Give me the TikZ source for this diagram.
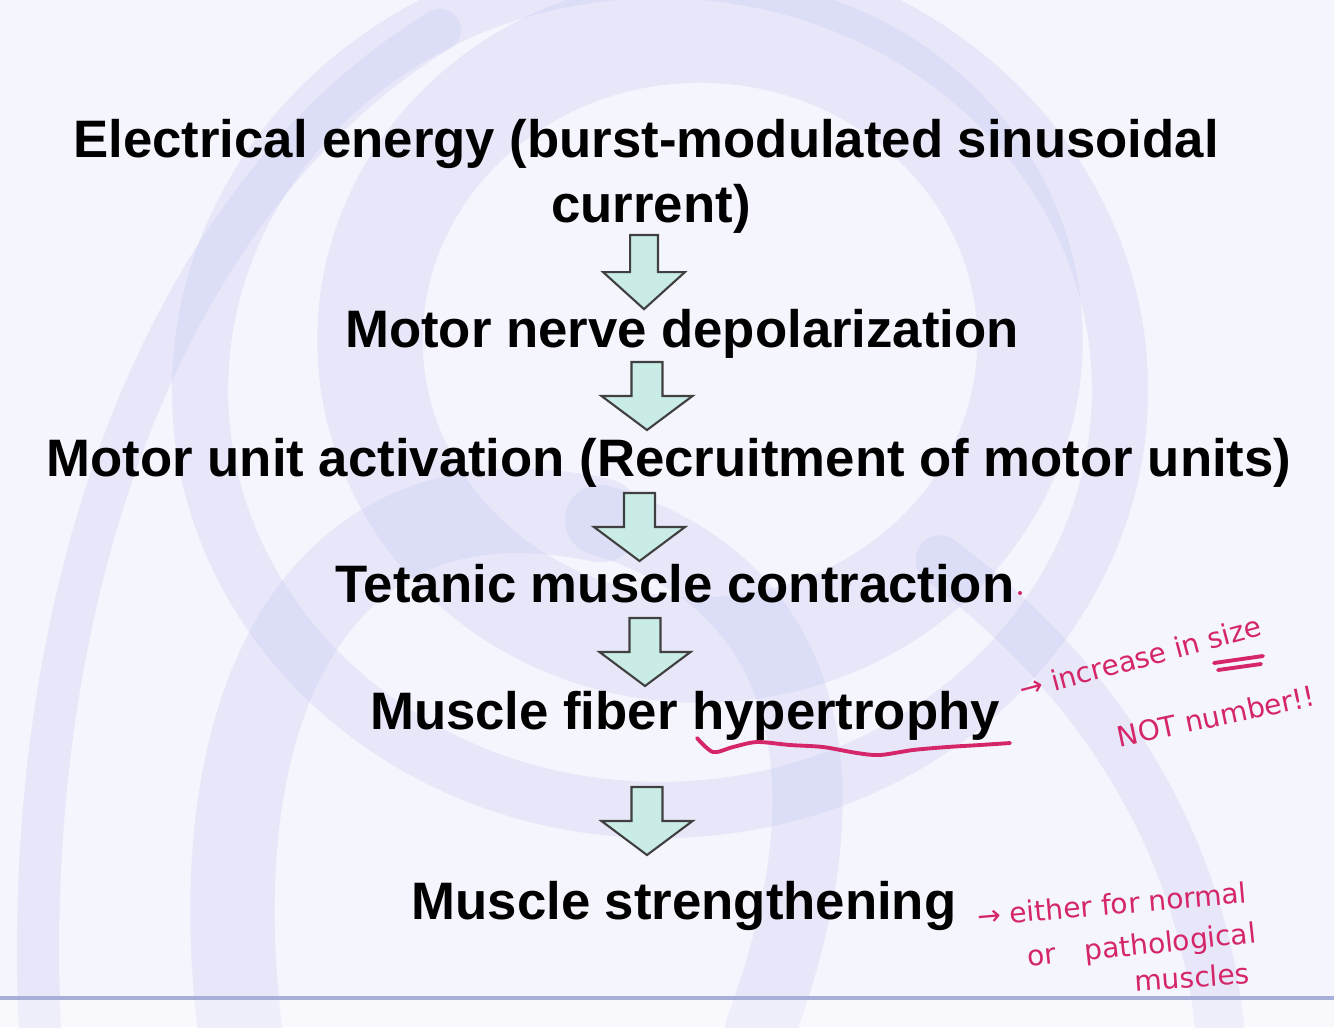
\documentclass[tikz,border=0pt]{standalone}
\usepackage{fontspec}
\setmainfont{Liberation Sans}
\newfontfamily\handfont{DejaVu Sans}
\usetikzlibrary{positioning, calc}
\usepackage{xcolor}
\definecolor{swirl}{RGB}{190, 192, 238}
\definecolor{slidebg}{RGB}{245, 245, 253}
\definecolor{arrowcyan}{RGB}{202, 236, 230}
\definecolor{inkpink}{RGB}{212, 38, 104}
\definecolor{ruleblue}{RGB}{165, 175, 215}
\tikzstyle{step1} = [anchor=base, inner sep=0pt, font=\bfseries\fontsize{15pt}{18pt}\selectfont]
\tikzstyle{note} = [inner sep=0pt, text=inkpink, font=\handfont\fontsize{8pt}{9.5pt}\selectfont]
\tikzstyle{ink} = [draw=inkpink, line width=1.1pt, line cap=round, line join=round]
\tikzset{downarrow/.pic={
    \draw[fill=arrowcyan, draw=black!75, line width=0.6pt]
      (-0.155,0) -- (-0.155,-0.34) -- (-0.455,-0.34) -- (0,-0.68)
      -- (0.455,-0.34) -- (0.155,-0.34) -- (0.155,0) -- cycle;}}

\begin{document}
\begin{tikzpicture}
    % slide background
    \fill[slidebg] (0,0) rectangle (13.34,-10.27);
    \useasboundingbox (0,0) rectangle (13.34,-10.27);
    \begin{scope}[swirl, line cap=round, opacity=0.25]
        \draw[line width=30pt] (7.0,-3.4) circle [x radius=3.3, y radius=3.1];
        \draw[line width=16pt] (6.6,-3.9) circle [x radius=4.6, y radius=4.2];
        \draw[line width=24pt] (2.4,-10.3) .. controls (2.0,-7.0) and (3.2,-4.6) .. (6.0,-5.2);
        \draw[line width=20pt] (6.0,-5.2) .. controls (8.0,-5.8) and (8.6,-7.6) .. (7.6,-10.3);
        \draw[line width=12pt] (0.4,-10.3) .. controls (0.2,-6.0) and (1.6,-2.0) .. (4.4,-0.3);
        \draw[line width=14pt] (9.4,-5.6) .. controls (11.0,-6.8) and (12.0,-8.4) .. (12.2,-10.3);
    \end{scope}
    \fill[white, opacity=0.35] (0,-9.98) rectangle (13.34,-10.27);
    \draw[ruleblue, line width=1.4pt] (0,-9.98) -- (13.34,-9.98);

    % chain of steps
    \node (ener) [step1] at (6.46,-1.57) {Electrical energy (burst-modulated sinusoidal};
    \node (curr) [step1] at (6.51,-2.22) {current)};
    \node (nerve) [step1] at (6.82,-3.47) {Motor nerve depolarization};
    \node (unit) [step1] at (6.69,-4.76) {Motor unit activation (Recruitment of motor units)};
    \node (tetanic) [step1] at (6.75,-6.02) {Tetanic muscle contraction};
    \node (fiber) [step1] at (6.85,-7.29) {Muscle fiber hypertrophy};
    \node (strong) [step1] at (6.84,-9.19) {Muscle strengthening};

    % block arrows
    \pic (a1) [xscale=0.9, yscale=1.09] at (6.44,-2.35) {downarrow};
    \pic (a2) at (6.47,-3.62) {downarrow};
    \pic (a3) at (6.395,-4.93) {downarrow};
    \pic (a4) at (6.45,-6.18) {downarrow};
    \pic (a5) at (6.47,-7.87) {downarrow};

    % handwritten notes
    \draw[ink] plot[smooth] coordinates {(6.97,-7.38) (7.13,-7.52) (7.33,-7.47) (7.57,-7.42)
        (7.90,-7.45) (8.23,-7.47) (8.57,-7.53) (8.80,-7.55) (9.13,-7.50) (9.47,-7.47)
        (9.80,-7.45) (10.10,-7.43)};
    \fill[inkpink] (10.20,-5.93) circle [radius=0.02];
    \node (incr) [note, rotate=15, anchor=base west] at (10.22,-7.00) {→ increase in size};
    \draw[ink] (12.14,-6.63) -- (12.63,-6.56);
    \draw[ink] (12.18,-6.70) -- (12.61,-6.64);
    \node (notnum) [note, rotate=12] at (12.16,-7.16) {NOT number!!};
    \node (either) [note, rotate=5] at (11.12,-9.04) {→ either for normal};
    \node (patho) [note, rotate=6] at (11.42,-9.47) {or\quad pathological};
    \node (musc) [note, rotate=4] at (11.92,-9.77) {muscles};
\end{tikzpicture}
\end{document}
